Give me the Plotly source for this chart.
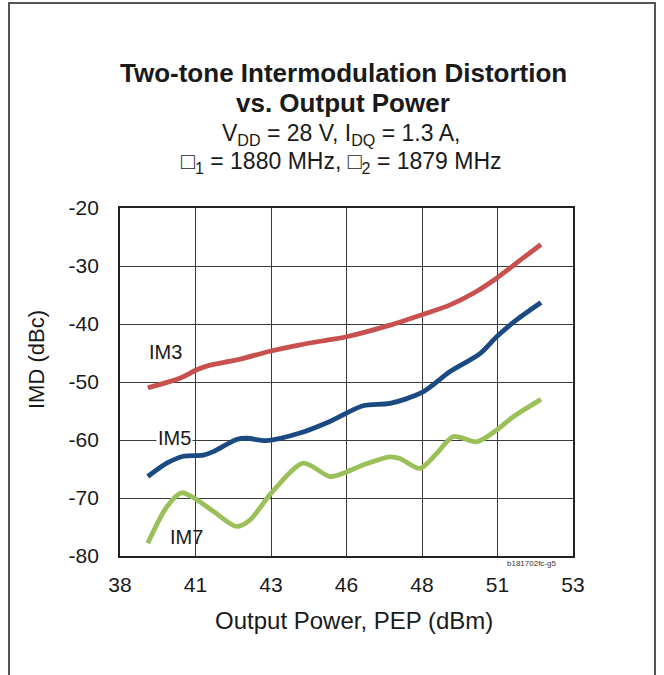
import plotly.graph_objects as go

# Data
im3_x = [38.92, 40.0, 40.54, 40.98, 41.86, 42.97, 43.96, 44.95, 45.5, 46.94, 48.0, 48.93, 49.7, 50.47, 51.25, 51.94]
im3_y = [-51.0, -49.3, -47.9, -47.1, -46.2, -44.7, -43.6, -42.7, -42.2, -40.2, -38.4, -36.7, -34.7, -32.1, -29.0, -26.3]

im5_x = [38.92, 39.55, 40.1, 40.76, 41.09, 41.86, 42.2, 42.86, 43.96, 44.95, 46.05, 46.94, 48.0, 48.93, 49.92, 50.47, 51.13, 51.94]
im5_y = [-66.3, -64.0, -62.8, -62.6, -62.0, -59.9, -59.7, -60.1, -58.8, -56.8, -54.1, -53.7, -51.8, -48.2, -45.1, -42.2, -39.3, -36.3]

im7_x = [38.92, 39.55, 40.04, 40.54, 41.09, 41.86, 42.3, 43.0, 44.07, 44.95, 45.5, 46.05, 46.94, 47.27, 47.93, 48.49, 49.04, 49.81, 50.47, 51.02, 51.94]
im7_y = [-77.8, -71.5, -69.1, -70.3, -72.3, -74.9, -73.8, -69.2, -64.0, -66.3, -65.5, -64.3, -62.9, -63.2, -64.9, -62.3, -59.4, -60.3, -58.3, -56.0, -53.0]

x_tickvals = [38, 40.5, 43, 45.5, 48, 50.5, 53]
x_ticktext = ["38", "41", "43", "46", "48", "51", "53"]
y_tickvals = [-80, -70, -60, -50, -40, -30, -20]
y_ticktext = ["-80", "-70", "-60", "-50", "-40", "-30", "-20"]

FONT = "Liberation Sans, Arial, sans-serif"
TXT = "#1a1a1a"

fig = go.Figure()
fig.add_trace(go.Scatter(x=im3_x, y=im3_y, mode="lines", name="IM3",
                         line=dict(color="#C8504E", width=4.8, shape="spline", smoothing=0.8)))
fig.add_trace(go.Scatter(x=im5_x, y=im5_y, mode="lines", name="IM5",
                         line=dict(color="#1B4A82", width=4.8, shape="spline", smoothing=0.8)))
fig.add_trace(go.Scatter(x=im7_x, y=im7_y, mode="lines", name="IM7",
                         line=dict(color="#9BBF59", width=4.8, shape="spline", smoothing=0.8)))

W, H = 664, 675
L, R, T, B = 120, 664 - 573, 208, 675 - 556
pw, ph = W - L - R, H - T - B

def px(x):
    return (x - L) / pw

def py(y):
    return (H - B - y) / ph

annotations = [
    dict(text="<b>Two-tone Intermodulation Distortion</b>", x=px(343), y=py(73), font=dict(size=26, color=TXT)),
    dict(text="<b>vs. Output Power</b>", x=px(343), y=py(103), font=dict(size=26, color=TXT)),
    dict(text="V<sub>DD</sub> = 28 V, I<sub>DQ</sub> = 1.3 A,", x=px(341), y=py(134), font=dict(size=23, color=TXT)),
    dict(text="□<sub>1</sub> = 1880 MHz, □<sub>2</sub> = 1879 MHz", x=px(341), y=py(162), font=dict(size=23, color=TXT)),
    dict(text="Output Power, PEP (dBm)", x=px(354), y=py(620), font=dict(size=24, color=TXT)),
    dict(text="IMD (dBc)", x=px(36), y=py(360), textangle=-90, font=dict(size=22, color=TXT)),
    dict(text="b181702fc-g5", x=px(531), y=py(563), font=dict(size=8, color="#333")),
]
for a in annotations:
    a.update(xref="paper", yref="paper", showarrow=False, xanchor="center", yanchor="middle")
    a["font"]["family"] = FONT

# series labels placed in data coordinates
annotations += [
    dict(text="IM3", x=39.49, y=-44.8, xref="x", yref="y", showarrow=False,
         font=dict(size=20, color=TXT, family=FONT)),
    dict(text="IM5", x=39.82, y=-59.66, xref="x", yref="y", showarrow=False, bgcolor="white",
         borderpad=1, font=dict(size=20, color=TXT, family=FONT)),
    dict(text="IM7", x=40.19, y=-76.7, xref="x", yref="y", showarrow=False,
         font=dict(size=20, color=TXT, family=FONT)),
]

fig.update_layout(
    width=W, height=H,
    margin=dict(l=L, r=R, t=T, b=B, pad=0),
    paper_bgcolor="white", plot_bgcolor="white",
    showlegend=False,
    font=dict(family=FONT, size=21, color=TXT),
    annotations=annotations,
    shapes=[
        dict(type="rect", xref="paper", yref="paper",
             x0=px(9), x1=px(655), y0=py(700), y1=py(3),
             line=dict(color="#555", width=2), layer="below"),
    ],
)
fig.update_xaxes(range=[38, 53], tickvals=x_tickvals, ticktext=x_ticktext,
                 showgrid=True, gridcolor="#3a3a3a", gridwidth=1, zeroline=False,
                 showline=True, linecolor="#222", linewidth=1.8, mirror=True,
                 ticks="", ticklabelstandoff=9, tickfont=dict(size=21, color=TXT))
fig.update_yaxes(range=[-80, -20], tickvals=y_tickvals, ticktext=y_ticktext,
                 showgrid=True, gridcolor="#3a3a3a", gridwidth=1, zeroline=False,
                 showline=True, linecolor="#222", linewidth=1.8, mirror=True,
                 ticks="", ticklabelstandoff=15, tickfont=dict(size=21, color=TXT))

fig.write_html("out.html", config={"displayModeBar": False},
               post_script="document.body.style.margin='0';document.body.style.overflow='hidden';")
